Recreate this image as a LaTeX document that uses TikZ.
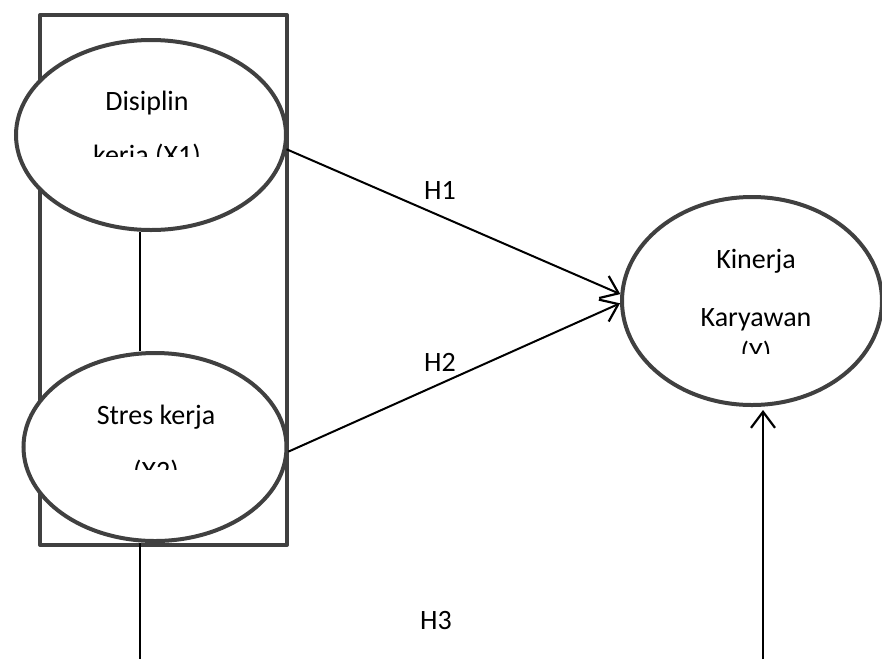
\documentclass[tikz,border=0pt]{standalone}
\usepackage{fontspec}
\setmainfont{Carlito}
\usetikzlibrary{arrows.meta,shapes.geometric}

\begin{document}
\begin{tikzpicture}[x=1pt,y=-1pt,
    frame/.style={draw=black!75, line width=4pt, line join=round},
    var/.style={ellipse, draw=black!75, line width=4pt, fill=white, inner sep=0pt},
    lbl/.style={font=\fontsize{28}{34}\selectfont, anchor=base, inner sep=0pt},
    link/.style={black, line width=2pt},
    arr/.style={link, -{Straight Barb[length=16pt,width=24pt,line width=2.2pt]}}]
    \useasboundingbox (0,0) rectangle (882,659);
    % group of the two variables
    \draw[frame] (40,15) rectangle (287,545);
    \coordinate (col) at (140,659);
    \coordinate (colr) at (763,659);
    \coordinate (tip3) at (763,410);
    \node[var, minimum width=270pt, minimum height=190pt] (x1) at (151,135) {};
    \node[var, minimum width=263pt, minimum height=188pt] (x2) at (155,447) {};
    \node[var, minimum width=260pt, minimum height=208pt] (y) at (752,301) {};
    % texts (second lines are cut as in the source)
    \node[lbl] (t1) at (147,110) {Disiplin};
    \node[lbl] (t4) at (156,424) {Stres kerja};
    \node[lbl] (t6) at (756,268) {Kinerja};
    \node[lbl] (t7) at (756,326) {Karyawan};
    \begin{scope}
        \clip (0,0) rectangle (882,156);
        \node[lbl] (t2) at (147,164) {kerja (X1)};
    \end{scope}
    \begin{scope}
        \clip (0,0) rectangle (882,469);
        \node[lbl] (t5) at (156,480) {(X2)};
    \end{scope}
    \begin{scope}
        \clip (0,0) rectangle (882,353);
        \node[lbl] (t8) at (756,361) {(Y)};
    \end{scope}
    % connectors
    \draw[link] (x1.south -| col) -- (x2.north -| col);
    \draw[link] (x2.south -| col) -- (col);
    \draw[arr] (x1.-6) -- (y.177);
    \draw[arr] (x2.-2) -- (y.181);
    \draw[arr] (colr) -- (tip3);
    \node[lbl] (h1) at (440,199) {H1};
    \node[lbl] (h2) at (440,371) {H2};
    \node[lbl] (h3) at (436,629) {H3};
\end{tikzpicture}
\end{document}
